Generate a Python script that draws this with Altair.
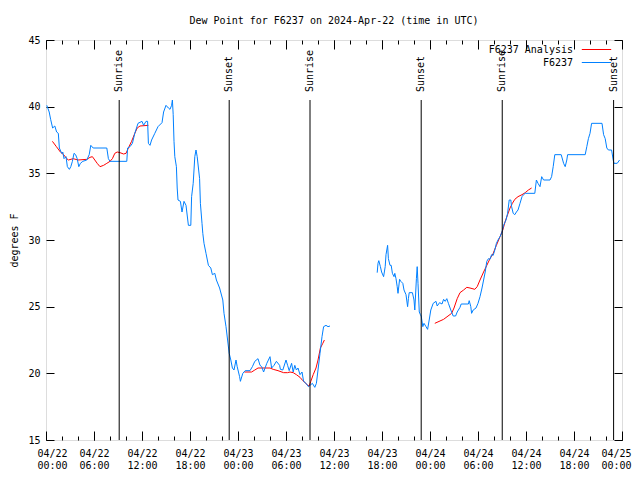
import altair as alt
import pandas as pd

# ---- data (hours since 2024-04-22 00:00 UTC, dew point in F) ----
obs_h1 = [0.1, 0.4, 0.58, 0.83, 1.1, 1.33, 1.54, 1.67, 1.96, 2.1, 2.25, 2.5, 2.67, 2.92, 3.1, 3.3, 3.5, 3.7, 3.9, 4.1,
          4.3, 4.6, 5.1, 5.4, 5.6, 5.9, 7.6, 7.8, 8.0, 10.1, 10.2, 10.5, 10.8, 11.1, 11.5, 12.0, 12.2, 12.5, 12.7, 12.8,
          13.0, 13.2, 13.6, 14.0, 14.5, 14.7, 15.0, 15.3, 15.5, 15.7, 15.8, 15.9, 16.0, 16.1, 16.3, 16.4, 16.5, 16.8,
          17.0, 17.25, 17.5, 17.8, 18.1, 18.2, 18.4, 18.6, 18.75, 18.9, 19.2, 19.3, 19.5, 19.6, 19.75, 20.0, 20.3, 20.6,
          20.8, 21.1, 21.3, 21.7, 22.1, 22.25, 22.5, 22.7, 22.9, 23.1, 23.3, 23.5, 23.75, 23.9, 24.2, 24.3, 24.6, 24.9,
          25.5, 25.8, 26.1, 26.5, 26.75, 26.96, 27.2, 27.6, 28.0, 28.2, 28.5, 28.8, 29.2, 29.3, 29.6, 30.0, 30.2, 30.4,
          30.7, 30.9, 31.1, 31.3, 31.5, 31.75, 32.0, 32.2, 32.5, 32.8, 33.0, 33.3, 33.6, 33.8, 34.0, 34.25, 34.5, 34.7,
          35.0, 35.25, 35.5]
obs_v1 = [40.1, 39.6, 39.05, 38.4, 38.55, 38.1, 38.0, 36.9, 36.5, 36.6, 36.1, 36.25, 35.5, 35.3, 35.5, 35.9, 36.5, 36.4,
          36.1, 35.5, 35.75, 35.9, 36.0, 36.4, 37.1, 36.9, 36.9, 36.1, 35.9, 35.9, 36.9, 37.0, 37.25, 38.0, 38.75, 38.9,
          38.6, 38.9, 38.9, 37.25, 37.1, 37.5, 38.0, 38.5, 38.8, 39.6, 40.1, 39.9, 39.8, 40.1, 40.5, 39.4, 37.4, 36.25,
          35.5, 33.9, 33.0, 32.9, 32.1, 32.9, 32.6, 31.1, 31.1, 33.25, 34.25, 36.25, 36.75, 36.25, 34.6, 32.75, 31.25,
          30.5, 29.75, 29.0, 28.1, 27.9, 27.4, 27.5, 27.0, 26.4, 25.5, 24.5, 23.5, 22.5, 21.5, 21.0, 20.4, 20.25, 21.0,
          20.5, 19.75, 19.4, 20.0, 20.2, 20.2, 20.5, 20.9, 21.1, 20.6, 20.5, 20.1, 20.75, 21.25, 20.4, 20.6, 20.9, 20.6,
          20.3, 20.25, 21.0, 20.6, 20.2, 20.75, 20.1, 20.6, 20.25, 20.4, 19.9, 20.1, 19.4, 19.25, 19.0, 19.1, 19.25,
          18.95, 19.25, 20.25, 21.5, 22.75, 23.5, 23.6, 23.5, 23.55]

obs_h2 = [41.4, 41.5, 41.6, 41.8, 41.95, 42.2, 42.4, 42.5, 42.7, 42.8, 43.0, 43.15, 43.3, 43.5, 43.6, 43.75, 43.9, 44.0,
          44.2, 44.35, 44.6, 44.75, 45.0, 45.2, 45.3, 45.4, 45.8, 46.0, 46.1, 46.3, 46.4, 46.5, 46.66, 46.8, 46.9, 47.1,
          47.25, 47.5, 47.7, 47.9, 48.1, 48.4, 48.75, 48.9, 49.2, 49.5, 49.7, 49.9, 50.1, 50.3, 50.6, 50.9, 51.2, 51.4,
          51.75, 51.9, 52.8, 52.9, 53.1, 53.2, 53.4, 53.75, 54.0, 54.25, 54.5, 54.7, 54.9, 55.1, 55.3, 55.5, 55.7, 55.9,
          56.1, 56.3, 56.5, 56.75, 57.0, 57.2, 57.5, 57.7, 57.9, 58.1, 58.2, 58.4, 58.6, 58.8, 59.0, 59.25, 59.5, 59.7,
          59.9, 61.1, 61.3, 61.5, 61.75, 61.96, 62.2, 63.0, 63.2, 63.4, 63.6, 64.4, 64.7, 64.9, 65.1, 65.2, 67.4, 67.6,
          67.8, 68.0, 68.2, 69.5, 69.7, 69.9, 70.1, 70.3, 70.7, 70.9, 71.0, 71.4, 71.7]
obs_v2 = [27.55, 28.25, 28.45, 28.0, 27.6, 27.25, 28.0, 28.9, 29.6, 28.6, 28.1, 28.1, 27.5, 27.25, 27.5, 27.1, 26.5,
          26.0, 27.05, 26.9, 26.75, 26.25, 25.9, 25.0, 25.6, 26.05, 26.05, 25.5, 24.75, 27.1, 28.0, 26.75, 24.6, 24.4,
          24.3, 23.5, 23.75, 23.5, 23.3, 24.0, 24.75, 25.25, 25.4, 25.05, 25.3, 25.2, 25.55, 25.4, 25.6, 25.25, 24.75,
          24.3, 24.3, 24.6, 24.95, 25.2, 25.2, 25.45, 25.0, 24.5, 24.75, 24.9, 25.25, 25.75, 26.4, 27.0, 27.6, 28.4,
          28.6, 28.55, 28.9, 28.85, 29.25, 29.75, 30.0, 30.25, 30.6, 31.1, 31.5, 32.0, 33.0, 33.0, 32.5, 32.0, 31.9,
          32.1, 32.25, 32.75, 33.25, 33.4, 33.5, 33.5, 34.5, 34.25, 34.0, 34.75, 34.5, 34.5, 34.75, 35.5, 36.4, 36.4,
          35.75, 35.5, 36.0, 36.4, 36.4, 37.0, 37.6, 38.0, 38.75, 38.75, 37.9, 37.6, 36.9, 36.75, 36.75, 36.0, 35.75,
          35.75, 36.0]

ana_h1 = [0.8, 1.3, 1.8, 2.2, 2.6, 2.8, 3.4, 4.0, 5.1, 5.5, 5.8, 6.1, 6.4, 6.75, 7.2, 7.6, 8.0, 8.3, 8.6, 8.9, 9.25,
          9.7, 10.0, 10.3, 10.7, 11.1, 11.4, 11.75, 12.8]
ana_v1 = [37.4, 37.0, 36.6, 36.4, 36.1, 36.0, 36.1, 36.0, 36.05, 36.2, 36.25, 36.0, 35.75, 35.5, 35.6, 35.75, 35.9,
          36.1, 36.5, 36.6, 36.55, 36.45, 36.5, 36.9, 37.4, 38.0, 38.4, 38.55, 38.6]
ana_h2 = [24.8, 25.7, 26.1, 26.5, 27.4, 28.0, 28.4, 29.0, 29.7, 30.2, 30.5, 30.9, 31.3, 31.75, 32.1, 32.4, 32.7, 32.9,
          33.1, 33.4, 33.75, 34.0, 34.3, 34.6, 34.8]
ana_v2 = [20.1, 20.1, 20.25, 20.4, 20.4, 20.4, 20.3, 20.2, 20.05, 20.05, 20.1, 20.05, 19.9, 19.7, 19.45, 19.3, 19.1,
          19.05, 19.4, 19.9, 20.4, 21.0, 21.9, 22.25, 22.5]
ana_h3 = [48.6, 49.7, 50.7, 51.0, 51.4, 51.75, 52.2, 52.6, 53.0, 53.6, 53.9, 54.25, 54.7, 55.1, 55.5, 55.9, 56.3,
          56.75, 57.1, 57.4, 57.7, 58.0, 58.3, 58.6, 59.0, 59.5, 59.9, 60.3, 60.7]
ana_v3 = [23.75, 24.05, 24.5, 24.9, 25.6, 26.05, 26.25, 26.45, 26.4, 26.3, 26.5, 27.0, 27.6, 28.1, 28.6, 29.0, 29.6,
          30.25, 30.75, 31.4, 31.9, 32.4, 32.75, 33.05, 33.25, 33.4, 33.55, 33.75, 33.9]

sun_h = [9.15, 22.9, 33.0, 46.9, 57.03, 70.95]
sun_label = ["Sunrise", "Sunset", "Sunrise", "Sunset", "Sunrise", "Sunset"]

series_names = ["F6237 Analysis", "F6237"]
series_colors = ["#ff0000", "#0080ff"]

x_major = list(range(0, 73, 6))
x_minor = list(range(0, 73, 2))
y_ticks = list(range(15, 46, 5))

# ---- tables ----
def seg(hs, vs, name, sid):
    return pd.DataFrame({"h": hs, "v": vs, "series": name, "seg": sid})

obs = pd.concat([seg(obs_h1, obs_v1, "F6237", "o1"), seg(obs_h2, obs_v2, "F6237", "o2")])
ana = pd.concat([seg(ana_h1, ana_v1, "F6237 Analysis", "a1"),
                 seg(ana_h2, ana_v2, "F6237 Analysis", "a2"),
                 seg(ana_h3, ana_v3, "F6237 Analysis", "a3")])
sun = pd.DataFrame({"h": sun_h, "label": sun_label})

FONT = "DejaVu Sans Mono"
W, H = 576, 400

xs = alt.Scale(domain=[0, 72], nice=False, zero=False)
ys = alt.Scale(domain=[15, 45], nice=False, zero=False)
cs = alt.Scale(domain=series_names, range=series_colors)

label_expr = ("['04/' + (22 + floor(datum.value / 24)), "
              "(datum.value % 24 < 10 ? '0' : '') + (datum.value % 24) + ':00']")


def tick_axis(orient, values, size, offset):
    return alt.Axis(orient=orient, values=values, tickSize=size, offset=alt.ExprRef(expr=str(offset)),
                    labels=False, domain=False, grid=False, title=None, ticks=True,
                    tickColor="black", tickWidth=1)


x_label_axis = alt.Axis(orient="bottom", values=x_major, labelExpr=label_expr, ticks=False, tickSize=0,
                        domain=False, grid=False, title=None, labelFont=FONT, labelFontSize=10,
                        labelColor="black", labelLineHeight=12, labelPadding=8, labelAngle=0,
                        labelFlush=True, labelFlushOffset=9, labelOverlap=False, labelBound=False)
y_label_axis = alt.Axis(orient="left", values=y_ticks, ticks=False, tickSize=0, domain=False, grid=False,
                        title="degrees F", titleFont=FONT, titleFontSize=10, titleFontWeight="normal",
                        titleColor="black", titlePadding=8, labelFont=FONT, labelFontSize=10,
                        labelColor="black", labelPadding=6, format="d", labelFlush=False)

legend = alt.Legend(orient="none", legendX=544, legendY=3, title=None,
                    symbolType="M-2.45,0H2.45", symbolSize=144, symbolStrokeWidth=1,
                    symbolFillColor="transparent", labelAlign="right",
                    labelOffset=alt.ExprRef(expr="-30"),
                    labelFont=FONT, labelFontSize=10, labelColor="black",
                    rowPadding=1, padding=0)

ana_line = alt.Chart(ana).mark_line(strokeWidth=1).encode(
    x=alt.X("h:Q", scale=xs, axis=x_label_axis),
    y=alt.Y("v:Q", scale=ys, axis=y_label_axis),
    color=alt.Color("series:N", scale=cs, legend=legend),
    detail="seg:N",
)

obs_line = alt.Chart(obs).mark_line(strokeWidth=1).encode(
    x=alt.X("h:Q", scale=xs, axis=tick_axis("top", x_major, 9, -H)),
    y=alt.Y("v:Q", scale=ys, axis=tick_axis("right", y_ticks, 8, -W)),
    color=alt.Color("series:N", scale=cs, legend=legend),
    detail="seg:N",
)

sun_rules = alt.Chart(sun).mark_rule(color="black", strokeWidth=1).encode(
    x=alt.X("h:Q", scale=xs, axis=tick_axis("top", x_minor, 4, -H)),
    y=alt.YDatum(15, scale=ys, axis=tick_axis("left", y_ticks, 8, -W)),
    y2=alt.Y2Datum(40.5),
)

sun_text = alt.Chart(sun).mark_text(angle=270, align="left", baseline="middle", font=FONT,
                                    fontSize=10, color="black").encode(
    x=alt.X("h:Q", scale=xs, axis=tick_axis("bottom", x_major, 9, -H)),
    y=alt.YDatum(41.1, scale=ys, axis=None),
    text="label:N",
)

ghost = alt.Chart(obs).mark_point(opacity=0).encode(
    x=alt.X("h:Q", scale=xs, axis=tick_axis("bottom", x_minor, 4, -H)),
    y=alt.Y("v:Q", scale=ys, axis=None),
)

chart = alt.layer(ana_line, obs_line, sun_rules, sun_text, ghost).resolve_axis(
    x="independent", y="independent"
).properties(
    width=W, height=H,
    title=alt.TitleParams("Dew Point for F6237 on 2024-Apr-22 (time in UTC)", font=FONT, fontSize=10,
                          fontWeight="normal", color="black", anchor="middle", offset=9),
    autosize=alt.AutoSizeParams(type="none"),
    padding={"left": 38, "top": 32, "right": 10, "bottom": 32},
).configure_view(stroke="black", strokeWidth=1).configure(background="white")

chart.save("out.html", embed_options={"renderer": "svg", "actions": False})
